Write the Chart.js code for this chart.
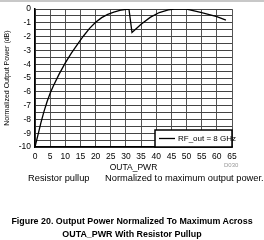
<!DOCTYPE html>
<html>
<head>
<meta charset="utf-8">
<script src="https://cdn.jsdelivr.net/npm/chart.js@4"></script>
<style>
  body { margin: 0; background: #fff; font-family: "Liberation Sans", Arial, sans-serif; }
  #wrap { position: relative; width: 264px; height: 240px; overflow: hidden; }
  #topbar { position: absolute; left: 0; top: 0; width: 264px; height: 2px; background: #c8c8c8; }
  #box { position: absolute; left: 0; top: 0; width: 264px; height: 180px; }
  .note { position: absolute; top: 173px; font-size: 9.3px; color: #000; white-space: nowrap; }
  #code { position: absolute; left: 224px; top: 162px; font-size: 6px; color: #999; }
  #caption { position: absolute; left: 0; top: 215px; width: 264px; text-align: center;
             font-size: 8.9px; font-weight: bold; line-height: 13px; }
</style>
</head>
<body>
<div id="wrap">
  <div id="topbar"></div>
  <div id="box"><canvas id="powerChart" width="264" height="180"></canvas></div>
  <div id="code">D030</div>
  <div class="note" style="left:28px">Resistor pullup</div>
  <div class="note" style="left:105px">Normalized to maximum output power.</div>
  <div id="caption">Figure 20. Output Power Normalized To Maximum Across<br>OUTA_PWR With Resistor Pullup</div>
</div>
<script>
// OUTA_PWR setting vs normalized power
const outaPwr = [0, 1, 2, 3, 4, 5, 6, 8, 10, 12, 14, 16, 18, 20, 22, 24, 26, 28, 30, 31,
                 32, 33, 35, 38, 41, 44, 46, 50, 55, 60, 63];
const powerDb = [-10, -9.1, -8.2, -7.4, -6.7, -6.1, -5.6, -4.7, -3.9, -3.2, -2.55, -1.95, -1.4, -0.95, -0.62, -0.38, -0.22, -0.1, -0.02, 0,
                 -1.7, -1.5, -1.1, -0.6, -0.25, -0.06, 0, 0, -0.25, -0.55, -0.8];
const seriesLabel = "RF_out = 8 GHz";
const xTicks = [0, 65, 5];   // min, max, step
const yTicks = [-10, 0, 0.5];

const points = outaPwr.map((x, i) => ({ x: x, y: powerDb[i] }));

// legend box drawn in the lower-right corner of the plot
const insideLegend = {
    id: "insideLegend",
    afterDraw(chart) {
        const ctx = chart.ctx;
        const a = chart.chartArea;
        const w = 77, h = 17;
        const x0 = a.right - w, y0 = a.bottom - h;
        ctx.save();
        ctx.fillStyle = "#fff";
        ctx.fillRect(x0, y0, w, h);
        ctx.strokeStyle = "#000";
        ctx.lineWidth = 1.5;
        ctx.strokeRect(x0, y0, w, h);
        ctx.beginPath();
        ctx.moveTo(x0 + 4, y0 + h / 2);
        ctx.lineTo(x0 + 20, y0 + h / 2);
        ctx.lineWidth = 1.3;
        ctx.stroke();
        ctx.fillStyle = "#000";
        ctx.font = "8px 'Liberation Sans', Arial, sans-serif";
        ctx.textBaseline = "middle";
        ctx.fillText(chart.data.datasets[0].label, x0 + 23, y0 + h / 2 + 0.5);
        ctx.restore();
    }
};

new Chart(document.getElementById("powerChart"), {
    type: "line",
    data: {
        datasets: [{
            label: seriesLabel,
            data: points,
            borderColor: "#000",
            borderWidth: 1.3,
            pointRadius: 0,
            fill: false,
            tension: 0
        }]
    },
    options: {
        responsive: false,
        animation: false,
        layout: { padding: { top: 6, right: 32, left: 0, bottom: 0 } },
        plugins: { legend: { display: false }, tooltip: { enabled: false } },
        scales: {
            x: {
                type: "linear",
                min: xTicks[0], max: xTicks[1],
                ticks: { stepSize: xTicks[2], color: "#000", padding: 5, maxRotation: 0,
                         font: { family: "Liberation Sans", size: 8.5 } },
                grid: { color: "#555", lineWidth: 1, tickLength: 0 },
                border: { color: "#000", width: 1.5 },
                title: { display: true, text: "OUTA_PWR", color: "#000", padding: { top: 0, bottom: 7 },
                         font: { family: "Liberation Sans", size: 8.5 } },
                afterFit(s) { s.height = 33; }
            },
            y: {
                min: yTicks[0], max: yTicks[1],
                ticks: { stepSize: yTicks[2], color: "#000", padding: 4, autoSkip: false,
                         font: { family: "Liberation Sans", size: 8.5 },
                         callback: v => Number.isInteger(v) ? String(v) : "" },
                grid: { color: "#444", lineWidth: 1, tickLength: 0 },
                border: { color: "#000", width: 1.5 },
                title: { display: true, text: "Normalized Output Power (dB)", color: "#000",
                         padding: { top: 3, bottom: 0 },
                         font: { family: "Liberation Sans", size: 7 } },
                afterFit(s) { s.width = 35; }
            }
        }
    },
    plugins: [insideLegend]
});
</script>
</body>
</html>
